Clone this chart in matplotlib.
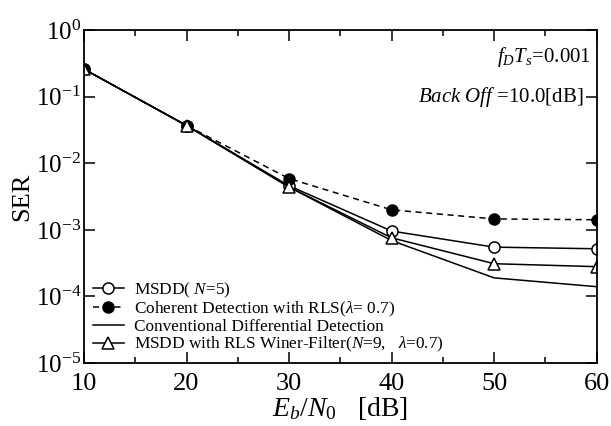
import numpy as np
import matplotlib
matplotlib.use('Agg')
import matplotlib.pyplot as plt
from matplotlib.ticker import MultipleLocator, LogLocator, NullLocator, FuncFormatter

plt.rcParams['font.family'] = ['Liberation Serif', 'DejaVu Serif']
plt.rcParams['mathtext.fontset'] = 'custom'
plt.rcParams['mathtext.rm'] = 'Liberation Serif'
plt.rcParams['mathtext.it'] = 'Liberation Serif:italic'

# Eb/N0 points
ebn0 = [10, 20, 30, 40, 50, 60]

# SER values
msdd_n5 = [0.26, 0.037, 0.0046, 0.00096, 0.00055, 0.00052]
coherent_rls = [0.26, 0.037, 0.0059, 0.0020, 0.00146, 0.00142]
conventional = [0.26, 0.037, 0.0044, 0.00069, 0.00019, 0.00014]
msdd_rls = [0.26, 0.037, 0.0044, 0.00076, 0.00031, 0.00028]

fig = plt.figure(figsize=(6.11, 4.26), dpi=100)
ax = fig.add_axes([0.1375, 0.148, 0.839, 0.781])

ax.plot(ebn0, msdd_n5, '-', color='black', lw=1.1, marker='o', ms=8,
        mfc='white', mec='black', mew=1.1, label='MSDD( $N$=5)')
ax.plot(ebn0, coherent_rls, '--', color='black', lw=1.1, marker='o', ms=8,
        mfc='black', mec='black', dashes=(4, 3),
        label=r'Coherent Detection with RLS($\lambda$= 0.7)')
ax.plot(ebn0, conventional, '-', color='black', lw=1.1,
        label='Conventional Differential Detection')
ax.plot(ebn0, msdd_rls, '-', color='black', lw=1.1, marker='^', ms=8,
        mfc='white', mec='black', mew=1.1,
        label=r'MSDD with RLS Winer-Filter($N$=9,   $\lambda$=0.7)')

ax.set_yscale('log')
ax.set_xlim(10, 60)
ax.set_ylim(1e-5, 1)
ax.xaxis.set_major_locator(MultipleLocator(10))
ax.xaxis.set_minor_locator(MultipleLocator(5))
ax.yaxis.set_major_locator(LogLocator(base=10, numticks=10))
ax.yaxis.set_minor_locator(NullLocator())
# 10^n labels, exponent kept close like the original
ax.yaxis.set_major_formatter(FuncFormatter(
    lambda v, p: r'$\mathregular{10^{%d}}$' % int(round(np.log10(v)))))

for s in ax.spines.values():
    s.set_linewidth(1.3)

ax.tick_params(which='both', direction='in', top=True, right=True, width=1.1)
ax.tick_params(which='major', length=8, labelsize=19)
ax.tick_params(axis='y', labelsize=18)
ax.tick_params(which='minor', length=4)
ax.tick_params(axis='x', pad=7)
ax.tick_params(axis='y', pad=2)

ax.set_xlabel('$E_b/N_0$   [dB]', fontsize=20, labelpad=0)
ax.set_ylabel('SER', fontsize=19, labelpad=2)

ax.text(0.99, 0.92, '$f_DT_s$=0.001', transform=ax.transAxes,
        ha='right', va='center', fontsize=15)
ax.text(0.975, 0.80, '$Back\\ Off$ =10.0[dB]', transform=ax.transAxes,
        ha='right', va='center', fontsize=15)

ax.legend(loc='lower left', frameon=False, fontsize=12.4, labelspacing=0.0,
          handlelength=1.8, handletextpad=0.6, borderaxespad=0.3,
          borderpad=0.2)

fig.savefig('out.png', dpi=100)
